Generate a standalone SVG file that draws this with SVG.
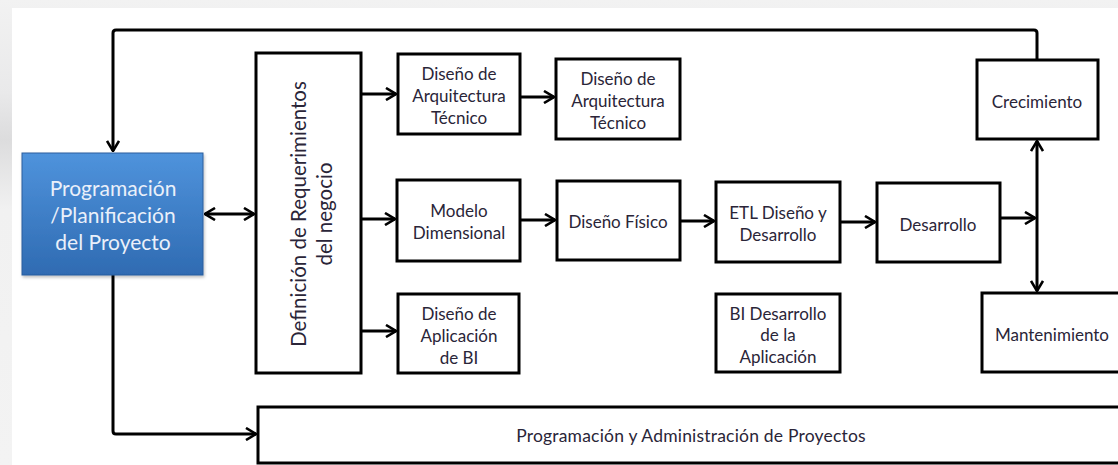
<svg xmlns="http://www.w3.org/2000/svg" width="1118" height="465" viewBox="0 0 1118 465">
<defs>
<linearGradient id="bg" x1="0" y1="0" x2="0" y2="1">
<stop offset="0" stop-color="#f2f2f2"/>
<stop offset="0.2" stop-color="#e9e9ea"/>
<stop offset="0.3" stop-color="#dcdcdd"/>
<stop offset="0.45" stop-color="#f1f1f1"/>
<stop offset="1" stop-color="#f3f3f3"/>
</linearGradient>
<linearGradient id="blue" x1="0" y1="0" x2="0" y2="1">
<stop offset="0" stop-color="#4f93dc"/>
<stop offset="1" stop-color="#2f6bb2"/>
</linearGradient>
<marker id="ah" viewBox="0 0 12 14" refX="11" refY="7" markerWidth="12" markerHeight="14" markerUnits="userSpaceOnUse" orient="auto-start-reverse">
<path d="M1,1 L11,7 L1,13" fill="none" stroke="#000" stroke-width="2.6" stroke-linejoin="miter"/>
</marker>
<filter id="sh" x="-10%" y="-10%" width="120%" height="130%">
<feDropShadow dx="1" dy="2" stdDeviation="1.5" flood-color="#000" flood-opacity="0.25"/>
</filter>
</defs>
<style>
.box{fill:#fff;stroke:#000;stroke-width:3}
.t{font-family:Lato,"Open Sans","Liberation Sans",sans-serif;font-size:17px;fill:#2a2538;text-anchor:middle;dominant-baseline:central}
.big{font-size:20.5px}
.w{fill:#eaf0fa;font-size:21px}
.bt{font-size:17.5px;letter-spacing:0.2px}
.c{fill:none;stroke:#000;stroke-width:3}
</style>
<rect x="0" y="0" width="1118" height="465" fill="url(#bg)"/>
<rect x="12" y="8" width="1106" height="457" fill="#fff"/>

<g id="connectors">
<path class="c" d="M1037,60 V33 Q1037,30 1034,30 H116 Q113,30 113,33 V151" marker-end="url(#ah)"/>
<path class="c" d="M113,275 V431 Q113,434 116,434 H256" marker-end="url(#ah)"/>
<path class="c" d="M205,214 H254" marker-start="url(#ah)" marker-end="url(#ah)"/>
<path class="c" d="M361,94 H396" marker-end="url(#ah)"/>
<path class="c" d="M361,219 H395" marker-end="url(#ah)"/>
<path class="c" d="M361,331 H396" marker-end="url(#ah)"/>
<path class="c" d="M520,97 H554" marker-end="url(#ah)"/>
<path class="c" d="M520,220 H555" marker-end="url(#ah)"/>
<path class="c" d="M680,221 H714" marker-end="url(#ah)"/>
<path class="c" d="M840,222 H875" marker-end="url(#ah)"/>
<path class="c" d="M1000,218 H1035" marker-end="url(#ah)"/>
<path class="c" d="M1037,141 V291" marker-start="url(#ah)" marker-end="url(#ah)"/>
</g>

<g id="n-plan">
<rect x="22" y="153" width="181" height="122" fill="url(#blue)" stroke="#2a5f9e" stroke-width="1" filter="url(#sh)"/>
<text class="t w" x="113" y="187">Programación</text>
<text class="t w" x="113" y="214">/Planificación</text>
<text class="t w" x="113" y="241">del Proyecto</text>
</g>

<g id="n-def">
<rect class="box" x="256" y="53" width="105" height="320"/>
<text class="t big" transform="translate(298,214) rotate(-90)">Definición de Requerimientos</text>
<text class="t big" transform="translate(324,214) rotate(-90)">del negocio</text>
</g>

<g id="n-arq1">
<rect class="box" x="398" y="54" width="122" height="80"/>
<text class="t" x="459" y="73">Diseño de</text>
<text class="t" x="459" y="95">Arquitectura</text>
<text class="t" x="459" y="117">Técnico</text>
</g>

<g id="n-arq2">
<rect class="box" x="556" y="59" width="124" height="80"/>
<text class="t" x="618" y="78">Diseño de</text>
<text class="t" x="618" y="100">Arquitectura</text>
<text class="t" x="618" y="122">Técnico</text>
</g>

<g id="n-modelo">
<rect class="box" x="397" y="180" width="123" height="81"/>
<text class="t" x="459" y="210">Modelo</text>
<text class="t" x="459" y="232">Dimensional</text>
</g>

<g id="n-fisico">
<rect class="box" x="557" y="181" width="123" height="79"/>
<text class="t" x="618" y="221">Diseño Físico</text>
</g>

<g id="n-etl">
<rect class="box" x="716" y="182" width="124" height="80"/>
<text class="t" x="778" y="212">ETL Diseño y</text>
<text class="t" x="778" y="234">Desarrollo</text>
</g>

<g id="n-desarrollo">
<rect class="box" x="877" y="183" width="123" height="79"/>
<text class="t" x="938" y="224">Desarrollo</text>
</g>

<g id="n-crec">
<rect class="box" x="977" y="60" width="121" height="79"/>
<text class="t" x="1037" y="101">Crecimiento</text>
</g>

<g id="n-mant">
<rect class="box" x="982" y="293" width="140" height="79"/>
<text class="t" x="1052" y="334">Mantenimiento</text>
</g>

<g id="n-app">
<rect class="box" x="398" y="294" width="121" height="79"/>
<text class="t" x="459" y="313">Diseño de</text>
<text class="t" x="459" y="335">Aplicación</text>
<text class="t" x="459" y="357">de BI</text>
</g>

<g id="n-bidev">
<rect class="box" x="716" y="294" width="124" height="78"/>
<text class="t" x="778" y="313">BI Desarrollo</text>
<text class="t" x="778" y="334">de la</text>
<text class="t" x="778" y="356">Aplicación</text>
</g>

<g id="n-admin">
<rect class="box" x="258" y="407" width="870" height="56"/>
<text class="t bt" x="691" y="435">Programación y Administración de Proyectos</text>
</g>
</svg>
